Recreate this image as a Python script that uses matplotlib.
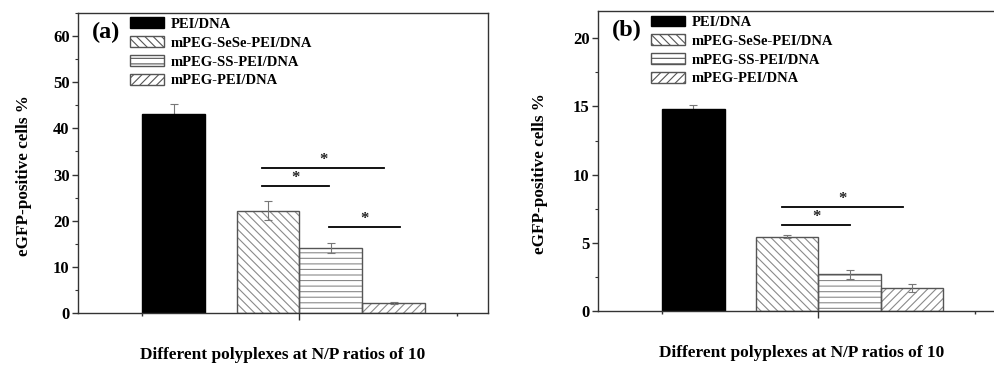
import matplotlib
matplotlib.use("Agg")
import matplotlib.pyplot as plt
from matplotlib.patches import Patch
from matplotlib.ticker import MultipleLocator, FixedLocator, NullFormatter

plt.rcParams['font.family'] = ['Liberation Serif', 'DejaVu Serif']
plt.rcParams['font.weight'] = 'bold'
plt.rcParams['hatch.linewidth'] = 0.8

BS = chr(92)

# ---- data ----
series = ["PEI/DNA", "mPEG-SeSe-PEI/DNA", "mPEG-SS-PEI/DNA", "mPEG-PEI/DNA"]
bar_x = [0.2, 0.8, 1.2, 1.6]
bar_width = 0.4
hatches = [None, BS * 4, "---", "////"]
facecolors = ["black", "white", "white", "white"]

values_a = [43.2, 22.2, 14.0, 2.2]
errors_a = [2.0, 2.0, 1.1, 0.2]
values_b = [14.83, 5.44, 2.68, 1.66]
errors_b = [0.3, 0.12, 0.3, 0.3]

# significance brackets: (x_start, x_end, height)
sig_a = [(0.76, 1.54, 31.5), (0.76, 1.19, 27.6), (1.19, 1.64, 18.6)]
sig_b = [(0.77, 1.54, 7.6), (0.77, 1.20, 6.3)]

ylim_a, major_a, minor_a = 65, 10, 5
ylim_b, major_b, minor_b = 22, 5, 2.5

xlabel = "Different polyplexes at N/P ratios of 10"
ylabel = "eGFP-positive cells %"

W, H = 995, 365
fig = plt.figure(figsize=(W / 100, H / 100), dpi=100)


def px_axes(l, r, t, b):
    return fig.add_axes([l / W, 1 - b / H, (r - l) / W, (b - t) / H])


def draw(ax, values, errors, sig, ylim, major, minor, tag, leg_x, xlab_y):
    for i in range(len(series)):
        if hatches[i] is None:
            ax.bar(bar_x[i], values[i], width=bar_width, color=facecolors[i],
                   edgecolor='black', linewidth=1.0, zorder=2)
            ez = 1
        else:
            ax.bar(bar_x[i], values[i], width=bar_width, color='white',
                   edgecolor='#8a8a8a', hatch=hatches[i], linewidth=0, zorder=2)
            ax.bar(bar_x[i], values[i], width=bar_width, fill=False,
                   edgecolor='#555555', linewidth=1.0, zorder=3)
            ez = 4
        ax.errorbar(bar_x[i], values[i], yerr=errors[i], fmt='none',
                    ecolor='#777777', elinewidth=0.8, capsize=3,
                    capthick=0.8, zorder=ez)
    for (x0, x1, h) in sig:
        ax.plot([x0, x1], [h, h], color='black', lw=1.3, zorder=5)
        ax.text((x0 + x1) / 2, h, "*", ha='center', va='bottom',
                fontsize=12, color='#222222')

    ax.set_xlim(-0.41, 2.2)
    ax.set_ylim(0, ylim)
    ax.yaxis.set_major_locator(MultipleLocator(major))
    ax.yaxis.set_minor_locator(MultipleLocator(minor))
    ax.xaxis.set_major_locator(FixedLocator([1]))
    ax.xaxis.set_minor_locator(FixedLocator([0, 2]))
    ax.xaxis.set_major_formatter(NullFormatter())
    ax.tick_params(axis='y', which='major', direction='out', length=4,
                   width=1, labelsize=12, pad=2, color='#333333')
    ax.tick_params(axis='y', which='minor', direction='out', length=2.5,
                   width=0.8, color='#333333')
    ax.tick_params(axis='x', which='major', direction='out', length=5,
                   width=1, color='#333333')
    ax.tick_params(axis='x', which='minor', direction='out', length=2.5,
                   width=1, color='#333333')
    for sp in ax.spines.values():
        sp.set_linewidth(1.0)
        sp.set_color('#333333')
    for lab in ax.get_yticklabels():
        lab.set_fontweight('bold')

    ax.set_ylabel(ylabel, fontsize=12.3, fontweight='bold')
    ax.set_xlabel(xlabel, fontsize=12.4, fontweight='bold')
    ax.xaxis.set_label_coords(0.5, xlab_y)

    ax.text(0.034, 0.935, tag, transform=ax.transAxes, fontsize=17.5,
            fontweight='bold', ha='left', va='center')

    handles = []
    for i in range(len(series)):
        if hatches[i] is None:
            handles.append(Patch(facecolor='black', edgecolor='black', label=series[i]))
        else:
            handles.append(Patch(facecolor='white', edgecolor='#555555',
                                 hatch=hatches[i], label=series[i]))
    ax.legend(handles=handles, loc='upper left', bbox_to_anchor=(leg_x, 0.985),
              frameon=False, borderaxespad=0, borderpad=0,
              handlelength=2.3, handleheight=0.75, handletextpad=0.5,
              labelspacing=0.37, prop={'weight': 'bold', 'size': 10.5})


ax_a = px_axes(78, 488, 13, 313)
draw(ax_a, values_a, errors_a, sig_a, ylim_a, major_a, minor_a, "(a)", 0.127, -0.113)
ax_a.yaxis.set_label_coords(-0.112, 0.457)

ax_b = px_axes(598, 1006, 11, 311)
draw(ax_b, values_b, errors_b, sig_b, ylim_b, major_b, minor_b, "(b)", 0.13, -0.113)
ax_b.yaxis.set_label_coords(-0.122, 0.458)

fig.savefig("out.png", dpi=100)
